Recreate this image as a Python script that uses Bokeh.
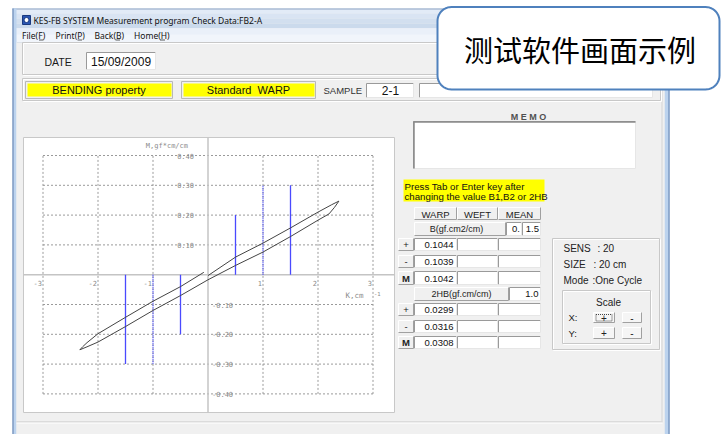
import numpy as np
from bokeh.plotting import figure
from bokeh.models import Range1d
from bokeh.core.properties import value
from bokeh.embed import file_html
from bokeh.resources import INLINE

# ---------------- data ----------------
x_ticks = [-3, -2, -1, 1, 2, 3]
x_tick_labels = ["-3", "-2", "-1", "1", "2", "3"]
y_ticks_pos = [0.4, 0.3, 0.2, 0.1]
y_tick_labels_pos = ["0.40", "0.30", "0.20", "0.10"]
y_ticks_neg = [-0.1, -0.2, -0.3, -0.4]
y_tick_labels_neg = ["-0.10", "-0.20", "-0.30", "-0.40"]
x_title = "K,cm"
x_title_exp = "-1"
y_title = "M,gf*cm/cm"

# hysteresis loop (curvature K [1/cm], moment M [gf*cm/cm]) in measuring order
loop_k = [0.0, 0.5, 1.0, 1.5, 2.0, 2.25, 2.38, 2.3, 2.2, 2.0, 1.5, 1.0, 0.5, 0.0,
          -0.5, -1.0, -1.5, -2.0, -2.2, -2.33, -2.28, -2.2, -2.0, -1.5, -1.0, -0.5, -0.076]
loop_m = [-0.003, 0.059, 0.106, 0.157, 0.210, 0.235, 0.247, 0.226, 0.204, 0.183, 0.128, 0.076, 0.031, -0.017,
          -0.070, -0.120, -0.174, -0.226, -0.242, -0.252, -0.242, -0.228, -0.198, -0.143, -0.089, -0.040, 0.008]

# blue evaluation markers
marker_k = [-1.5, -1.0, -0.5, 0.5, 1.0, 1.5]
marker_m = [-0.3, -0.3, -0.2, 0.2, 0.3, 0.3]
marker_dash = ["solid", "1 1", "solid", "solid", "1 1", "solid"]

# window texts
window_title = "KES-FB SYSTEM Measurement program Check Data:FB2-A"
menu_items = ["File(F)", "Print(P)", "Back(B)", "Home(H)"]
date_label = "DATE"
date_value = "15/09/2009"
property_label = "BENDING property"
standard_label = "Standard\u00a0\u00a0WARP"
sample_label = "SAMPLE"
sample_value = "2-1"
memo_label = "M E M O"
note_lines = ["Press Tab or Enter key after", "changing the value B1,B2 or 2HB"]

# result table
table_headers = ["WARP", "WEFT", "MEAN"]
b_label = "B(gf.cm2/cm)"
b_params = ["0.", "1.5"]
row_signs = ["+", "-", "M"]
b_warp = ["0.1044", "0.1039", "0.1042"]
hb_label = "2HB(gf.cm/cm)"
hb_param = "1.0"
hb_warp = ["0.0299", "0.0316", "0.0308"]

# instrument settings
info_labels = ["SENS", "SIZE", "Mode"]
info_values = [": 20", ": 20 cm", ":One Cycle"]
scale_title = "Scale"
scale_axes = ["X:", "Y:"]
scale_buttons = ["+", "-"]

callout_text = "测试软件画面示例"

# ---------------- figure ----------------
W, H = 721, 434
p = figure(width=W, height=H, x_range=Range1d(0, W), y_range=Range1d(H, 0),
           output_backend="svg", toolbar_location=None, min_border=0,
           x_axis_location=None, y_axis_location=None,
           background_fill_color="white", border_fill_color="white", outline_line_color=None)
p.grid.visible = False

# chart scales: pixel position of K=0 / M=0 and pixels per unit
K0_PX, K_PX = 207.5, 55.0
M0_PX, M_PX = 274.2, 298.0
p.extra_x_ranges = {"k": Range1d((0 - K0_PX) / K_PX, (W - K0_PX) / K_PX)}
p.extra_y_ranges = {"m": Range1d((M0_PX - H) / M_PX, (M0_PX - 0) / M_PX)}
KM = dict(x_range_name="k", y_range_name="m")

UI = "Liberation Sans"
SYS = "Noto Sans"
MONO = "DejaVu Sans Mono"


def box(x0, y0, x1, y1, fill, line=None, lw=1.0):
    p.quad(left=[x0], right=[x1], top=[y0], bottom=[y1], fill_color=fill,
           line_color=line, line_width=lw)


def seg(x0, y0, x1, y1, color, lw=1.0, dash="solid", **kw):
    p.segment(x0=x0, y0=y0, x1=x1, y1=y1, line_color=color, line_width=lw, line_dash=dash, **kw)


def sunken(x0, y0, x1, y1, fill="white"):
    box(x0, y0, x1, y1, fill)
    seg([x0, x0], [y0, y0], [x1, x0], [y0, y1], "#9a9a9a")
    seg([x0, x1], [y1, y0], [x1, x1], [y1, y1], "#e6e6e6")


def raised(x0, y0, x1, y1, fill="#f0f0f0"):
    box(x0, y0, x1, y1, fill)
    seg([x0, x0], [y0, y0], [x1, x0], [y0, y1], "#ffffff")
    seg([x0, x1], [y1, y0], [x1, x1], [y1, y1], "#a0a0a0")


def etched(x0, y0, x1, y1):
    p.quad(left=[x0 + 1], right=[x1 + 1], top=[y0 + 1], bottom=[y1 + 1], fill_color=None,
           line_color="#ffffff", line_width=1)
    p.quad(left=[x0], right=[x1], top=[y0], bottom=[y1], fill_color=None,
           line_color="#c8c8c8", line_width=1)


def label(x, y, s, size="10px", color="#1a1a1a", align="left", font=UI, style="normal", **kw):
    p.text(x=[x], y=[y], text=[s], text_font=value(font), text_font_size=size,
           text_color=color, text_align=align, text_baseline="middle", text_font_style=style, **kw)


# ---------------- window frame ----------------
box(12, 8, 669, 434, "#f0f0f0")
# title bar gradient
bands = ["#e2ebf7", "#d9e4f3", "#d2dfef", "#cbdaec"]
for i, c in enumerate(bands):
    box(13, 8 + i * 5, 668, 13 + i * 5, c)
seg([12], [8.5], [669], [8.5], "#8ea4c4")
box(13, 28, 668, 42, "#f1f5fb")
box(13, 28, 668, 34, "#eaf0f9")
# side borders
box(12, 8, 16, 434, "#bcd3ee")
seg([12.5], [8], [12.5], [434], "#5f7fae")
box(664, 8, 669, 434, "#bcd3ee")
seg([668.5], [8], [668.5], [434], "#5f7fae")
box(16, 42, 664, 434, "#f0f0f0")
seg([16], [42], [664], [42], "#dde3ea")
# icon
box(22, 15, 30, 24, "#2b56b3", line="#1a3a80")
p.scatter(x=[26], y=[19.5], size=5, marker="circle", fill_color="white", line_color="#1a3a80")
label(33, 19.5, window_title, size="8.5px", color="#111111", font=SYS)
menu_x = [21.5, 55, 94, 133.5]
for mx, m in zip(menu_x, menu_items):
    label(mx, 34.5, m, size="8.5px", color="#111111", font=SYS)
# access-key underlines
seg([38.5, 77, 115, 159.5], [39.5] * 4, [43, 81.5, 119.5, 164.5], [39.5] * 4, "#333333", lw=0.8)

# status bar
seg([16], [421.5], [662], [421.5], "#c6c6c6")
seg([16], [422.5], [662], [422.5], "#ffffff")
seg([661.5], [42], [661.5], [421], "#d4d4d4")

# ---------------- header panels ----------------
etched(22, 42, 660, 74)
label(44, 61, date_label, size="10.5px")
sunken(86, 52, 155, 69)
label(90.5, 61, date_value, size="12px", color="#111111")

etched(22, 78, 660, 100)
for x0, x1, t in [(25, 172, property_label), (181, 315, standard_label)]:
    box(x0, 81, x1, 98, "#f0f0f0", line="#b8b8b8")
    box(x0 + 2, 83, x1 - 1, 96, "#ffff00")
    label((x0 + x1) / 2, 89.5, t, size="11px", align="center", color="#111111")
label(323, 89.5, sample_label, size="9.5px", color="#333333")
sunken(366, 83, 413, 97)
label(390, 90, sample_value, size="12px", align="center", color="#111111")
sunken(419, 83, 652, 97)

# memo
label(528, 116.5, memo_label, size="9px", align="center", color="#505050", style="bold")
sunken(413, 121, 635, 168)
seg([413.5], [121], [413.5], [168], "#8a8a8a", lw=1.5)
seg([413], [121.5], [635], [121.5], "#8a8a8a", lw=1.5)

# ---------------- chart ----------------
box(23, 137, 394, 412, "white", line="#c8c8c8")
# grid
seg(x_ticks, [-0.4] * len(x_ticks), x_ticks, [0.4] * len(x_ticks), "#9a9a9a", dash="2 2", **KM)
gy = y_ticks_pos + y_ticks_neg
seg([-3] * len(gy), gy, [3] * len(gy), gy, "#9a9a9a", dash="2 2", **KM)
# axes through origin
seg([0], [137], [0], [412], "#c4c4c4", lw=1.5, x_range_name="k")
seg([23], [0], [394], [0], "#c4c4c4", lw=1.5, y_range_name="m")
# tick labels
p.text(x=[0] * 4, y=y_ticks_pos, text=y_tick_labels_pos, x_offset=-14, text_align="right",
       text_baseline="middle", text_font=value(MONO), text_font_size="7px", text_color="#8a8a8a", **KM)
p.text(x=[0] * 4, y=y_ticks_neg, text=y_tick_labels_neg, x_offset=4, text_align="left",
       text_baseline="middle", text_font=value(MONO), text_font_size="7px", text_color="#8a8a8a", **KM)
p.text(x=x_ticks, y=[0] * len(x_ticks), text=x_tick_labels, x_offset=-1, y_offset=8, text_align="right",
       text_baseline="middle", text_font=value(MONO), text_font_size="7px", text_color="#8a8a8a", **KM)
p.text(x=[0], y=[0.4], text=[y_title], x_offset=-20, y_offset=-10, text_align="right",
       text_baseline="middle", text_font=value(MONO), text_font_size="7px", text_color="#8a8a8a", **KM)
p.text(x=[2.5], y=[0], text=[x_title], y_offset=21, text_align="left",
       text_baseline="middle", text_font=value(MONO), text_font_size="7.5px", text_color="#8a8a8a", **KM)
p.text(x=[3], y=[0], text=[x_title_exp], x_offset=1, y_offset=19, text_align="left",
       text_baseline="middle", text_font=value(MONO), text_font_size="5.5px", text_color="#8a8a8a", **KM)
# markers
for k, m, d in zip(marker_k, marker_m, marker_dash):
    seg([k], [0], [k], [m], "#4a4aff", lw=1.3, dash=d, **KM)
# loop
p.line(loop_k, loop_m, line_color="#444444", line_width=1.0, **KM)

# ---------------- note & table ----------------
box(403, 179, 544, 201, "#ffff00")
label(404, 185.5, note_lines[0], size="9.7px", color="#111111")
label(404, 196, note_lines[1], size="9.7px", color="#111111")

col_x = [(414, 456), (457, 497), (498, 540)]
raised_col = (398, 413)
for (x0, x1), h in zip(col_x, table_headers):
    raised(x0, 207, x1, 219)
    label((x0 + x1) / 2, 213.5, h, size="9.5px", align="center", color="#222222")

raised(414, 222, 505, 235)
label(456, 228.5, b_label, size="9px", align="center", color="#222222")
sunken(506, 222, 521, 235)
label(519.5, 228.5, b_params[0], size="9.5px", align="right", color="#111111")
sunken(522, 222, 540, 235)
label(538.5, 228.5, b_params[1], size="9.5px", align="right", color="#111111")

b_rows = [(238, 250), (255, 267), (271, 284)]
for (y0, y1), s, v in zip(b_rows, row_signs, b_warp):
    raised(raised_col[0], y0, raised_col[1], y1)
    label(405.5, (y0 + y1) / 2, s, size="9.5px", align="center", color="#222222", style="bold" if s == "M" else "normal")
    for (x0, x1) in col_x:
        sunken(x0, y0, x1, y1)
    label(453, (y0 + y1) / 2 + 0.5, v, size="9.5px", align="right", color="#111111")

raised(414, 287, 508, 300)
label(461, 293.5, hb_label, size="9px", align="center", color="#222222")
sunken(509, 287, 540, 300)
label(538, 293.5, hb_param, size="9.5px", align="right", color="#111111")

hb_rows = [(303, 315), (320, 332), (336, 348)]
for (y0, y1), s, v in zip(hb_rows, row_signs, hb_warp):
    raised(raised_col[0], y0, raised_col[1], y1)
    label(405.5, (y0 + y1) / 2, s, size="9.5px", align="center", color="#222222", style="bold" if s == "M" else "normal")
    for (x0, x1) in col_x:
        sunken(x0, y0, x1, y1)
    label(453, (y0 + y1) / 2 + 0.5, v, size="9.5px", align="right", color="#111111")

# ---------------- settings box ----------------
etched(552, 238, 659, 349)
info_y = [248, 264, 280]
info_vx = [597, 593, 592]
for yy, lab, val, vx in zip(info_y, info_labels, info_values, info_vx):
    label(563, yy, lab, size="10px", color="#222222")
    label(vx, yy, val, size="10px", color="#222222")
etched(562, 290, 650, 343)
label(608, 302, scale_title, size="10px", align="center", color="#222222")
btn_x = [(593, 614), (622, 641)]
btn_rows = [(312, 322), (327, 338)]
for (y0, y1), ax in zip(btn_rows, scale_axes):
    label(568, (y0 + y1) / 2, ax, size="9.5px", color="#222222")
    for (x0, x1), b in zip(btn_x, scale_buttons):
        raised(x0, y0, x1, y1, fill="#f5f5f5")
        label((x0 + x1) / 2, (y0 + y1) / 2, b, size="10px", align="center", color="#222222")
p.quad(left=[595.5], right=[611.5], top=[314], bottom=[320.5], fill_color=None,
       line_color="#444444", line_dash="1 1", line_width=1)

# ---------------- callout ----------------
cx0, cx1, cy0, cy1, r = 437, 719, 6.5, 89, 14
t = np.linspace(0, np.pi / 2, 12)
xs = np.concatenate([cx0 + r - r * np.cos(t), cx1 - r + r * np.sin(t),
                     cx1 - r + r * np.cos(t), cx0 + r - r * np.sin(t)])
ys = np.concatenate([cy0 + r - r * np.sin(t), cy0 + r - r * np.cos(t),
                     cy1 - r + r * np.sin(t), cy1 - r + r * np.cos(t)])
p.patch(xs, ys, fill_color="white", line_color="#4f81bd", line_width=2)
label(579.5, 48, callout_text, size="29px", align="center", color="#000000", font="Noto Sans CJK SC")

open("out.html", "w").write(file_html(p, INLINE))
